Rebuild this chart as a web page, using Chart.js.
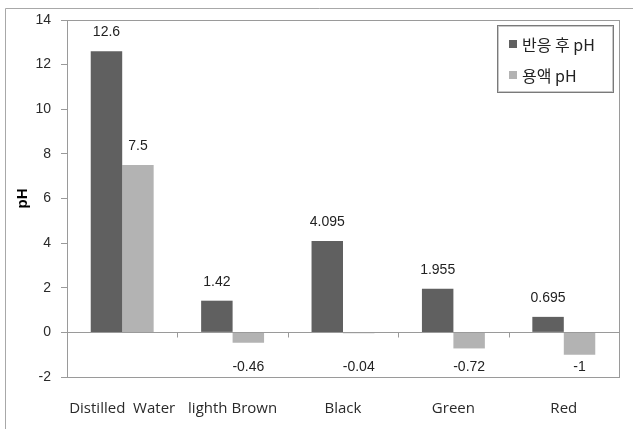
<!DOCTYPE html>
<html>
<head>
<meta charset="utf-8">
<script src="https://cdn.jsdelivr.net/npm/chart.js@4/dist/chart.umd.min.js"></script>
<style>
  html, body { margin: 0; padding: 0; background: #ffffff; }
  #wrap { width: 633px; height: 429px; }
</style>
</head>
<body>
<div id="wrap"><canvas id="c" width="633" height="429"></canvas></div>
<script>
// Samples on the category axis
const categories = ['Distilled  Water', 'lighth Brown', 'Black', 'Green', 'Red'];
// Series names shown in the legend
const seriesNames = ['반응 후 pH', '용액 pH'];
// pH after reaction
const afterValues = [12.6, 1.42, 4.095, 1.955, 0.695];
// pH of the solution
const solutionValues = [7.5, -0.46, -0.04, -0.72, -1];
// Value axis range and step
const yMin = -2, yMax = 14, yStep = 2;
const yTitle = 'pH';

const darkGray = '#606060';
const lightGray = '#b3b3b3';
const frameGray = '#9a9a9a';
const numFont = '"Liberation Sans", Arial, sans-serif';

// Outer frame, plot border, zero line with category separators
const framePlugin = {
  id: 'frame',
  beforeDraw(chart) {
    const ctx = chart.ctx;
    ctx.save();
    ctx.fillStyle = '#ffffff';
    ctx.fillRect(0, 0, chart.width, chart.height);
    ctx.strokeStyle = '#a8a8a8';
    ctx.lineWidth = 1;
    ctx.beginPath();
    ctx.moveTo(5.5, chart.height);
    ctx.lineTo(5.5, 8.5);
    ctx.lineTo(chart.width, 8.5);
    ctx.stroke();
    ctx.restore();
  },
  afterDatasetsDraw(chart) {
    const ctx = chart.ctx;
    const a = chart.chartArea;
    const xs = chart.scales.x;
    const ys = chart.scales.y;
    const y0 = Math.round(ys.getPixelForValue(0)) + 0.5;
    ctx.save();
    ctx.strokeStyle = frameGray;
    ctx.lineWidth = 1;
    ctx.beginPath();
    ctx.moveTo(a.left, y0);
    ctx.lineTo(a.right, y0);
    for (let i = 1; i < categories.length; i++) {
      const bx = Math.round((xs.getPixelForValue(i - 1) + xs.getPixelForValue(i)) / 2) + 0.5;
      ctx.moveTo(bx, y0);
      ctx.lineTo(bx, y0 + 5);
    }
    ctx.stroke();
    ctx.strokeRect(Math.round(a.left) + 0.5, Math.round(a.top) + 0.5,
                   Math.round(a.right - a.left), Math.round(a.bottom - a.top));
    ctx.restore();
  }
};

// Value labels: above positive bars, on a common line below the axis for negative ones
const valueLabels = {
  id: 'valueLabels',
  afterDatasetsDraw(chart) {
    const ctx = chart.ctx;
    const ys = chart.scales.y;
    ctx.save();
    ctx.font = '14px ' + numFont;
    ctx.fillStyle = '#222222';
    ctx.textAlign = 'center';
    ctx.textBaseline = 'middle';
    chart.data.datasets.forEach((ds, di) => {
      const meta = chart.getDatasetMeta(di);
      meta.data.forEach((bar, i) => {
        const v = ds.data[i];
        const y = v >= 0 ? bar.y - 19 : ys.getPixelForValue(-1.5) + 1;
        ctx.fillText(String(v), bar.x, y);
      });
    });
    ctx.restore();
  }
};

// Boxed legend in the upper right of the plot
const boxLegend = {
  id: 'boxLegend',
  afterDraw(chart) {
    const ctx = chart.ctx;
    const a = chart.chartArea;
    const w = 116, h = 67;
    const left = a.right - 6 - w, top = a.top + 5;
    ctx.save();
    ctx.fillStyle = '#ffffff';
    ctx.fillRect(left, top, w, h);
    ctx.strokeStyle = '#7a7a7a';
    ctx.lineWidth = 1;
    ctx.strokeRect(left + 0.5, top + 0.5, w, h);
    ctx.strokeStyle = '#c8c8c8';
    ctx.strokeRect(left + 1.5, top + 1.5, w - 2, h - 2);
    ctx.font = '16px "Noto Sans CJK KR", sans-serif';
    ctx.textBaseline = 'middle';
    ctx.textAlign = 'left';
    chart.data.datasets.forEach((ds, i) => {
      const cy = top + 20 + i * 31;
      ctx.fillStyle = ds.backgroundColor;
      ctx.fillRect(left + 12, cy - 5, 8, 8);
      ctx.fillStyle = '#222222';
      ctx.fillText(ds.label, left + 25, cy);
    });
    ctx.restore();
  }
};

new Chart(document.getElementById('c'), {
  type: 'bar',
  data: {
    labels: categories,
    datasets: [
      { label: seriesNames[0], data: afterValues, backgroundColor: darkGray,
        categoryPercentage: 0.57, barPercentage: 1.0 },
      { label: seriesNames[1], data: solutionValues, backgroundColor: lightGray,
        categoryPercentage: 0.57, barPercentage: 1.0 }
    ]
  },
  options: {
    responsive: false,
    animation: false,
    devicePixelRatio: 1,
    layout: { padding: { top: 20, right: 14, left: 0, bottom: 0 } },
    plugins: {
      legend: { display: false },
      tooltip: { enabled: false }
    },
    scales: {
      x: {
        grid: { display: false },
        border: { display: false },
        ticks: {
          padding: 15,
          color: '#2a2a2a',
          font: { family: '"Open Sans", sans-serif', size: 15 },
          maxRotation: 0,
          autoSkip: false
        },
        afterFit(scale) { scale.height = 52; }
      },
      y: {
        min: yMin,
        max: yMax,
        ticks: {
          stepSize: yStep,
          padding: 10,
          color: '#2a2a2a',
          font: { family: numFont, size: 14 }
        },
        grid: {
          drawOnChartArea: false,
          drawTicks: true,
          tickLength: 6,
          color: frameGray
        },
        border: { display: false },
        title: {
          display: true,
          text: yTitle,
          color: '#000000',
          font: { family: numFont, size: 15, weight: 'bold' },
          padding: { top: 14, bottom: 0 }
        },
        afterFit(scale) { scale.width = 67; }
      }
    }
  },
  plugins: [framePlugin, valueLabels, boxLegend]
});
</script>
</body>
</html>
